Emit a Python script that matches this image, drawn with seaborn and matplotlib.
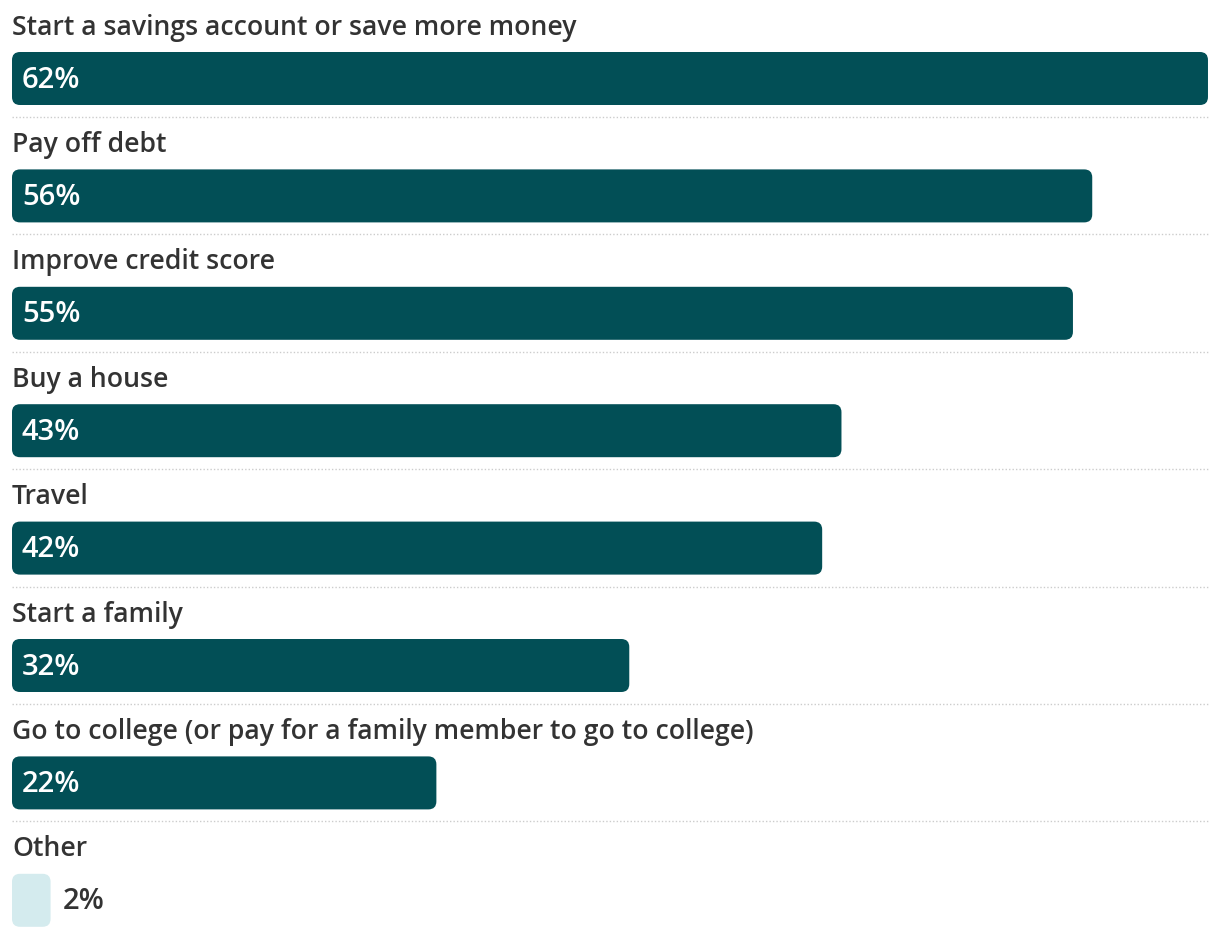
import matplotlib
matplotlib.use("Agg")
import matplotlib.pyplot as plt
from matplotlib.patches import FancyBboxPatch
import seaborn as sns
import pandas as pd

categories = [
    "Start a savings account or save more money",
    "Pay off debt",
    "Improve credit score",
    "Buy a house",
    "Travel",
    "Start a family",
    "Go to college (or pay for a family member to go to college)",
    "Other",
]
values = [62, 56, 55, 43, 42, 32, 22, 2]
dark = "#024F56"
light = "#D4EBEE"
colors = [dark] * 7 + [light]

df = pd.DataFrame({"cat": categories, "val": values})

sns.set_theme(style="white")
plt.rcParams["font.family"] = ["Open Sans", "DejaVu Sans"]

fig = plt.figure(figsize=(12.2, 9.4), dpi=100)
ax = fig.add_axes([0, 0, 1, 1])

pitch = 117.4
sns.barplot(data=df, x="val", y="cat", hue="cat", palette=colors,
            order=categories, hue_order=categories, legend=False,
            orient="h", width=53 / pitch, saturation=1, ax=ax)

# pixel geometry: 0% at x=12px, 19.29 px per %
ax.set_xlim(-12 / 19.29, (1220 - 12) / 19.29)
ax.set_ylim((940 - 78.5) / pitch, -78.5 / pitch)
ax.axis("off")

# swap plain bars for rounded ones
rx = 8 / 19.29
ry = 8 / pitch
for p in list(ax.patches):
    x0, y0, w, h = p.get_x(), p.get_y(), p.get_width(), p.get_height()
    fb = FancyBboxPatch((x0, y0), w, h,
                        boxstyle=f"round,pad=0,rounding_size={rx}",
                        mutation_aspect=ry / rx,
                        facecolor=p.get_facecolor(), edgecolor="none")
    p.remove()
    ax.add_patch(fb)

fs = 19.2
pfs = 21
for i, (c, v) in enumerate(zip(categories, values)):
    ax.text(0, i - 51 / pitch, c, ha="left", va="center", fontsize=fs,
            fontweight="semibold", color="#333333")
    if v > 5:
        ax.text(10 / 19.29, i + 1.5 / pitch, f"{v}%", ha="left", va="center",
                fontsize=pfs, fontweight="semibold", color="white")
    else:
        ax.text(v + 12 / 19.29, i + 1.5 / pitch, f"{v}%", ha="left", va="center",
                fontsize=pfs, fontweight="semibold", color="#333333")
    if i < len(categories) - 1:
        ax.plot([0, 62], [i + 38.5 / pitch] * 2, color="#cccccc",
                linewidth=1, linestyle=(0, (1, 1.5)))

fig.savefig("out.png", dpi=100)
